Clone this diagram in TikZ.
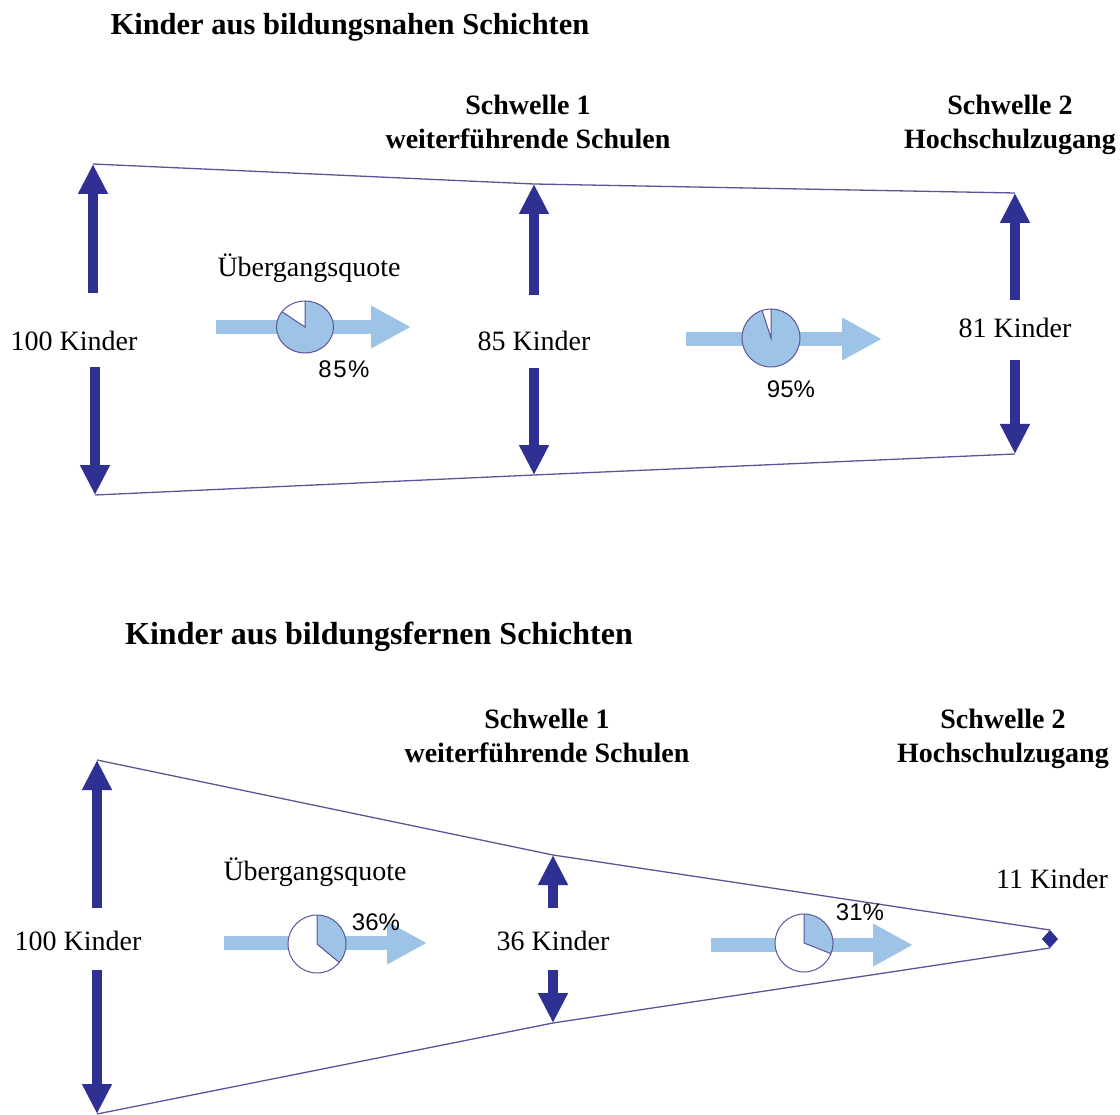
\documentclass[tikz,border=0pt]{standalone}
\usepackage{fontspec}
\setmainfont{Liberation Serif}
\newfontfamily\prozentfont{Liberation Sans}
\usetikzlibrary{arrows.meta}
\definecolor{dunkelblau}{RGB}{46,49,146}
\definecolor{hellblau}{RGB}{157,195,230}
\definecolor{randlinie}{RGB}{92,84,152}

\begin{document}
\begin{tikzpicture}[x=1pt, y=-1pt,
    titel/.style={font=\fontsize{30.5}{34}\selectfont\bfseries},
    schwelle/.style={font=\fontsize{28}{34}\selectfont\bfseries, align=center},
    beschr/.style={font=\fontsize{28}{32}\selectfont},
    prozent/.style={font=\prozentfont\fontsize{24}{28}\selectfont},
    kindpfeil/.style={draw=dunkelblau, line width=10pt, -{Triangle[width=28pt,length=30pt]}},
    quotenpfeil/.style={draw=hellblau, line width=14pt, -{Triangle[width=40pt,length=40pt]}},
    rand/.style={draw=randlinie, line width=1.3pt},
    kuchen/.style={draw=randlinie, line width=1pt}]
  \useasboundingbox (0,0) rectangle (1120,1115);

  % oben: bildungsnahe Schichten
  \node[titel] (titelA) at (350,27) {Kinder aus bildungsnahen Schichten};
  \node[schwelle] (schwA1) at (528,122) {Schwelle 1\\weiterführende Schulen};
  \node[schwelle] (schwA2) at (1010,125) {Schwelle 2\\Hochschulzugang};

  \coordinate (A0o) at (93,164);
  \coordinate (A1o) at (534,184);
  \coordinate (A2o) at (1015,193);
  \coordinate (A0u) at (95,495);
  \coordinate (A1u) at (534,475);
  \coordinate (A2u) at (1015,454);
  \draw[rand] (A0o) -- (A1o) -- (A2o);
  \draw[rand] (A0u) -- (A1u) -- (A2u);

  \node[beschr] (kA0) at (74,341) {100 Kinder};
  \node[beschr] (kA1) at (534,341) {85 Kinder};
  \node[beschr] (kA2) at (1015,328) {81 Kinder};
  \coordinate (sA0o) at (93,293);
  \coordinate (sA0u) at (95,367);
  \coordinate (sA1o) at (534,295);
  \coordinate (sA1u) at (534,368);
  \coordinate (sA2o) at (1015,300);
  \coordinate (sA2u) at (1015,360);
  \draw[kindpfeil] (sA0o) -- (A0o);
  \draw[kindpfeil] (sA0u) -- (A0u);
  \draw[kindpfeil] (sA1o) -- (A1o);
  \draw[kindpfeil] (sA1u) -- (A1u);
  \draw[kindpfeil] (sA2o) -- (A2o);
  \draw[kindpfeil] (sA2u) -- (A2u);

  \node[beschr] (quoteA) at (309,268) {Übergangsquote};
  \coordinate (qA1a) at (216,327);
  \coordinate (qA1b) at (411,327);
  \coordinate (qA2a) at (686,339);
  \coordinate (qA2b) at (882,339);
  \draw[quotenpfeil] (qA1a) -- (qA1b);
  \draw[quotenpfeil] (qA2a) -- (qA2b);
  \begin{scope}[shift={(305,327)}, y=1pt]
    \fill[white] (0,0) ellipse[x radius=28.5, y radius=26];
    \fill[hellblau] (0,0) -- (90:28.5 and 26) arc[start angle=90, end angle=-216, x radius=28.5, y radius=26] -- cycle;
    \draw[kuchen] (0,0) ellipse[x radius=28.5, y radius=26];
    \draw[kuchen] (90:28.5 and 26) -- (0,0) -- (144:28.5 and 26);
  \end{scope}
  \begin{scope}[shift={(771,338)}, y=1pt]
    \fill[white] (0,0) circle[radius=29];
    \fill[hellblau] (0,0) -- (90:29) arc[start angle=90, end angle=-252, radius=29] -- cycle;
    \draw[kuchen] (0,0) circle[radius=29];
    \draw[kuchen] (90:29) -- (0,0) -- (108:29);
  \end{scope}
  \node[prozent] (pA1) at (344,369) {8\kern1.5pt5\kern1.5pt\%};
  \node[prozent] (pA2) at (791,389) {95\%};

  % unten: bildungsferne Schichten
  \node[titel, font=\fontsize{32}{36}\selectfont\bfseries] (titelB) at (379,637) {Kinder aus bildungsfernen Schichten};
  \node[schwelle] (schwB1) at (547,736) {Schwelle 1\\weiterführende Schulen};
  \node[schwelle] (schwB2) at (1003,739) {Schwelle 2\\Hochschulzugang};

  \coordinate (B0o) at (97,760);
  \coordinate (B1o) at (553,855);
  \coordinate (B2o) at (1050,930);
  \coordinate (B0u) at (97,1114);
  \coordinate (B1u) at (553,1023);
  \coordinate (B2u) at (1050,948);
  \draw[rand] (B0o) -- (B1o) -- (B2o);
  \draw[rand] (B0u) -- (B1u) -- (B2u);
  \fill[dunkelblau] (B2o) -- (1058,939) -- (B2u) -- (1042,939) -- cycle;

  \node[beschr] (kB0) at (78,941) {100 Kinder};
  \node[beschr] (kB1) at (553,941) {36 Kinder};
  \node[beschr] (kB2) at (1052,879) {11 Kinder};
  \coordinate (sB0o) at (97,908);
  \coordinate (sB0u) at (97,970);
  \coordinate (sB1o) at (553,908);
  \coordinate (sB1u) at (553,970);
  \draw[kindpfeil] (sB0o) -- (B0o);
  \draw[kindpfeil] (sB0u) -- (B0u);
  \draw[kindpfeil] (sB1o) -- (B1o);
  \draw[kindpfeil] (sB1u) -- (B1u);

  \node[beschr] (quoteB) at (315,872) {Übergangsquote};
  \coordinate (qB1a) at (224,943);
  \coordinate (qB1b) at (427,943);
  \coordinate (qB2a) at (711,945);
  \coordinate (qB2b) at (913,945);
  \draw[quotenpfeil] (qB1a) -- (qB1b);
  \draw[quotenpfeil] (qB2a) -- (qB2b);
  \begin{scope}[shift={(317,944)}, y=1pt]
    \fill[white] (0,0) circle[radius=29];
    \fill[hellblau] (0,0) -- (90:29) arc[start angle=90, end angle=-39.6, radius=29] -- cycle;
    \draw[kuchen] (0,0) circle[radius=29];
    \draw[kuchen] (90:29) -- (0,0) -- (-39.6:29);
  \end{scope}
  \begin{scope}[shift={(804,943)}, y=1pt]
    \fill[white] (0,0) circle[radius=29];
    \fill[hellblau] (0,0) -- (90:29) arc[start angle=90, end angle=-21.6, radius=29] -- cycle;
    \draw[kuchen] (0,0) circle[radius=29];
    \draw[kuchen] (90:29) -- (0,0) -- (-21.6:29);
  \end{scope}
  \node[prozent] (pB1) at (376,922) {36\%};
  \node[prozent] (pB2) at (860,912) {31\%};
\end{tikzpicture}
\end{document}
